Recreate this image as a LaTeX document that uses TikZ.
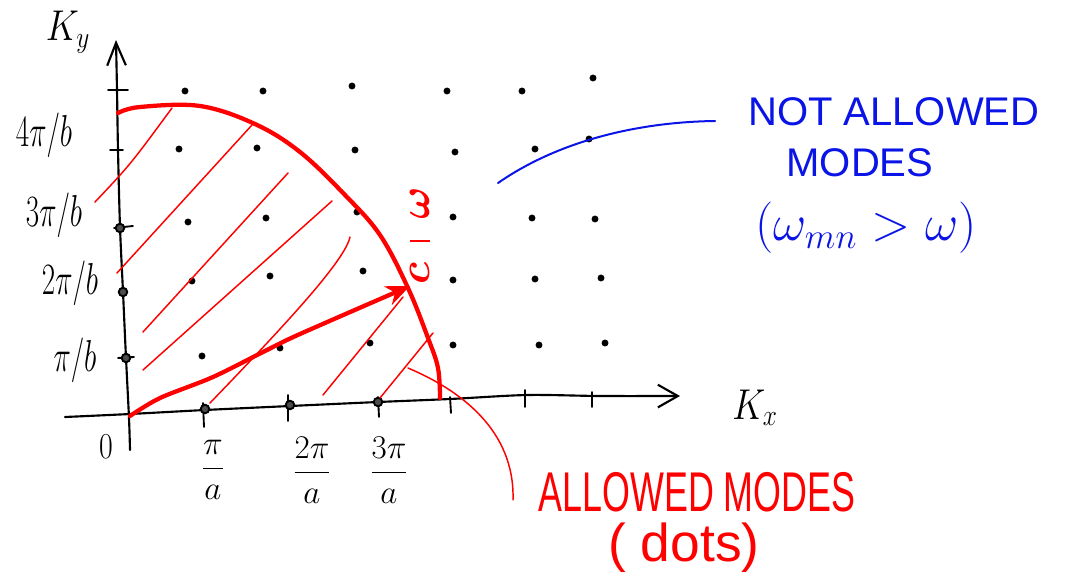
\documentclass[tikz,border=0pt]{standalone}
\usepackage{amsmath}
\usepackage{fontspec}
\setsansfont{Liberation Sans}
\usetikzlibrary{arrows.meta}
\definecolor{penred}{RGB}{255,0,0}
\definecolor{penblue}{RGB}{10,20,230}
\begin{document}
\begin{tikzpicture}[x=0.75pt,y=-0.75pt,
  axisline/.style={line width=1.6pt,line cap=round,line join=round},
  tickmark/.style={line width=1.4pt,line cap=round},
  bound/.style={penred,line width=3.2pt,line cap=round,line join=round},
  hatchline/.style={penred,line width=1.1pt,line cap=round},
  vecline/.style={penred,line width=3.2pt,line cap=round,-{Stealth[length=18pt,width=15pt]}},
  callblue/.style={penblue,line width=1.5pt,line cap=round},
  callred/.style={penred,line width=1.1pt,line cap=round},
  gridpt/.style={fill=black},
  axpt/.style={draw=black,line width=1.4pt,fill=black!70},
  mlabel/.style={inner sep=0pt,font=\fontsize{24}{28}\selectfont},
  bluetext/.style={penblue,inner sep=0pt,font=\sffamily\fontsize{30}{34}\selectfont},
  redtext/.style={penred,inner sep=0pt,font=\sffamily\fontsize{28}{32}\selectfont}]
\useasboundingbox (0,0) rectangle (1070,578);

% axes
\coordinate (o) at (130,416);
\coordinate (xend) at (680,396);
\coordinate (yend) at (116,40);
\draw[axisline,-{Straight Barb[length=15pt,width=17pt]}] plot[smooth] coordinates
  {(65,417) (130,414) (205,410) (290,406) (378,402) (450,399) (527,395) (600,396) (xend)};
\draw[axisline,-{Straight Barb[length=17pt,width=14pt]}] plot[smooth] coordinates
  {(130,450) (129,418) (126,358) (123,292) (120,227) (118,150) (117,90) (yend)};

% ticks on x axis
\draw[tickmark] (203,403) -- (204,427);
\draw[tickmark] (288,395) -- (288,421);
\draw[tickmark] (378,397) -- (379,417);
\draw[tickmark] (450,397) -- (451,413);
\draw[tickmark] (525,390) -- (525,407);
\draw[tickmark] (592,392) -- (592,407);
% ticks on y axis
\draw[tickmark] (108,90) -- (128,90);
\draw[tickmark] (110,150) -- (123,150);
\draw[tickmark] (114,228) -- (133,226);
\draw[tickmark] (118,358) -- (134,357);

% points on the axes
\foreach \p in {(120,228),(123,292),(126,358),(205,409),(290,405),(378,402)}
  \draw[axpt] \p circle[radius=3.2pt];

% grid of modes
\foreach \p in {(185,91),(263,91),(352,86),(447,91),(522,91),(593,78),
                (179,149),(257,148),(355,150),(455,152),(535,149),(589,139),
                (188,222),(266,218),(357,212),(453,217),(532,218),(595,219),
                (192,281),(270,276),(363,271),(453,280),(535,279),(601,278),
                (202,356),(280,348),(370,343),(453,345),(539,345),(605,343)}
  \fill[gridpt] \p circle[radius=2.6pt];

% hatching
\draw[hatchline] (95,202) .. controls (130,165) .. (172,108);
\draw[hatchline] (117,273) -- (252,125);
\draw[hatchline] (143,332) -- (288,173);
\draw[hatchline] (143,370) -- (332,201);
\draw[hatchline] (210,403) .. controls (290,320) and (345,260) .. (350,237);
\draw[hatchline] (323,395) -- (403,297);
\draw[hatchline] (380,398) -- (433,333);

% boundary omega/c
\draw[bound] plot[smooth,tension=0.6] coordinates
  {(118,113) (140,107) (200,106) (255,124) (300,152) (345,195) (380,235) (408,288) (428,338) (438,368) (440,398)};

% wave vector
\coordinate (tip) at (410,286);
\draw[vecline] plot[smooth] coordinates {(o) (160,398) (213,377) (267,350) (300,334) (tip)};

% labels of axes
\node[mlabel] (ky) at (68,32) {\scalebox{1.1}[1.3]{$K_y$}};
\node[mlabel] (kx) at (755,408) {\scalebox{1.1}[1.3]{$K_x$}};
\node[mlabel] (zero) at (106,447) {\scalebox{0.9}[1.1]{$0$}};
\node[mlabel] (l4) at (44,135) {\scalebox{0.88}[1.35]{$4\pi/b$}};
\node[mlabel] (l3) at (54,215) {\scalebox{0.88}[1.35]{$3\pi/b$}};
\node[mlabel] (l2) at (70,283) {\scalebox{0.88}[1.35]{$2\pi/b$}};
\node[mlabel] (l1) at (75,360) {\scalebox{0.88}[1.35]{$\pi/b$}};
\node[mlabel] (a1) at (213,470) {$\dfrac{\pi}{a}$};
\node[mlabel] (a2) at (312,470) {$\dfrac{2\pi}{a}$};
\node[mlabel] (a3) at (389,470) {$\dfrac{3\pi}{a}$};

% omega/c
\node[penred,inner sep=0pt,font=\fontsize{24}{28}\selectfont\boldmath] (wc) at (420,236)
  {\scalebox{1.3}{$\dfrac{\rotatebox{90}{$\omega$}}{\rotatebox{90}{$c$}}$}};

% not allowed
\node[bluetext,anchor=west] (na1) at (748,112) {NOT ALLOWED};
\node[bluetext] (na2) at (860,163) {MODES};
\node[penblue,inner sep=0pt,font=\fontsize{24}{28}\selectfont] (na3) at (866,228) {\scalebox{1.55}{$(\omega_{mn}>\omega)$}};
\coordinate (bstart) at (498,183);
\coordinate (bend) at (715,121);
\draw[callblue] (bstart) .. controls (560,140) and (640,122) .. (bend);

% allowed
\node[redtext] (al1) at (697,492) {\scalebox{0.96}[1.5]{ALLOWED MODES}};
\node[penred,inner sep=0pt,font=\sffamily\fontsize{40}{44}\selectfont] (al2) at (684,548) {( dots)};
\coordinate (rstart) at (408,368);
\coordinate (rend) at (513,500);
\draw[callred] (rstart) .. controls (460,390) and (515,430) .. (rend);
\end{tikzpicture}
\end{document}
